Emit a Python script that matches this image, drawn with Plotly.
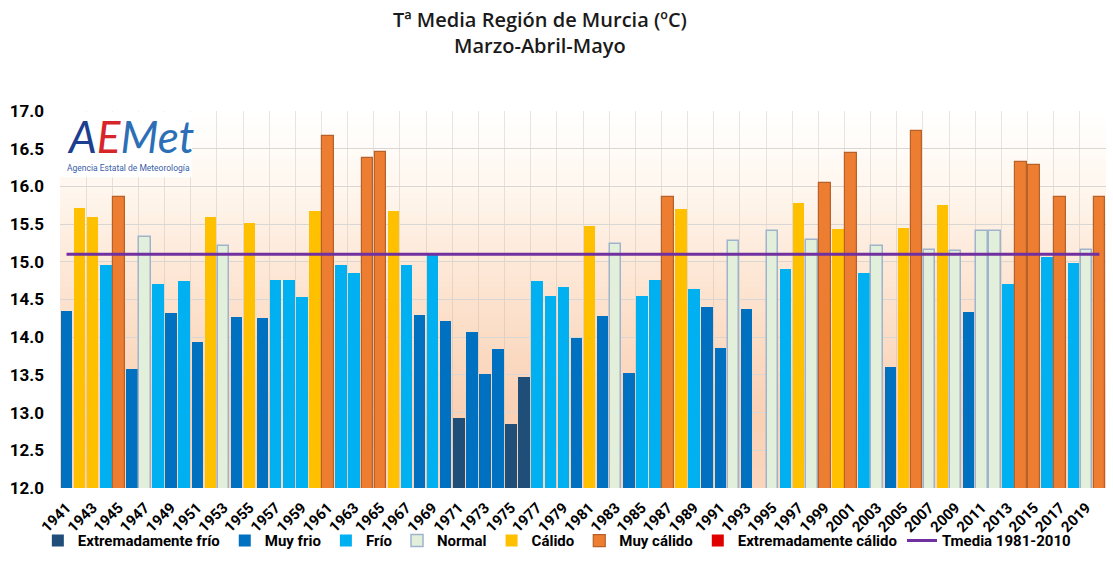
import plotly.graph_objects as go

# ---------------- data ----------------
years = list(range(1941, 2021))

temps = [
    14.35, 15.72, 15.59, 14.96, 15.86, 13.58, 15.33, 14.70, 14.32, 14.74,   # 1941-1950
    13.94, 15.60, 15.21, 14.27, 15.52, 14.26, 14.76, 14.76, 14.53, 15.68,   # 1951-1960
    16.67, 14.96, 14.85, 16.38, 16.46, 15.67, 14.96, 14.30, 15.12, 14.21,   # 1961-1970
    12.93, 14.07, 13.51, 13.85, 12.85, 13.47, 14.74, 14.55, 14.66, 13.99,   # 1971-1980
    15.47, 14.28, 15.24, 13.53, 14.55, 14.76, 15.86, 15.70, 14.64, 14.40,   # 1981-1990
    13.86, 15.27, 14.37, None,  15.41, 14.90, 15.78, 15.29, 16.04, 15.43,   # 1991-2000
    16.44, 14.85, 15.21, 13.61, 15.45, 16.74, 15.16, 15.76, 15.14, 14.34,   # 2001-2010
    15.41, 15.41, 14.71, 16.32, 16.29, 15.07, 15.86, 14.99, 15.15, 15.86,   # 2011-2020
]

classes = [
    "MF", "C", "C", "F", "MC", "MF", "N", "F", "MF", "F",
    "MF", "C", "N", "MF", "C", "MF", "F", "F", "F", "C",
    "MC", "F", "F", "MC", "MC", "C", "F", "MF", "F", "MF",
    "EF", "MF", "MF", "MF", "EF", "EF", "F", "F", "F", "MF",
    "C", "MF", "N", "MF", "F", "F", "MC", "C", "F", "MF",
    "MF", "N", "MF", None, "N", "F", "C", "N", "MC", "C",
    "MC", "F", "N", "MF", "C", "MC", "N", "C", "N", "MF",
    "N", "N", "F", "MC", "MC", "F", "MC", "F", "N", "MC",
]

category_codes = ["EF", "MF", "F", "N", "C", "MC", "EC"]
category_names = ["Extremadamente frío", "Muy frio", "Frío", "Normal",
                  "Cálido", "Muy cálido", "Extremadamente cálido"]

tmedia_name = "Tmedia 1981-2010"
tmedia_years = [1941, 2020]
tmedia_values = [15.1, 15.1]

tick_years = [1941, 1943, 1945, 1947, 1949, 1951, 1953, 1955, 1957, 1959,
              1961, 1963, 1965, 1967, 1969, 1971, 1973, 1975, 1977, 1979,
              1981, 1983, 1985, 1987, 1989, 1991, 1993, 1995, 1997, 1999,
              2001, 2003, 2005, 2007, 2009, 2011, 2013, 2015, 2017, 2019]
tick_labels = [str(y) for y in tick_years]

title_line1 = "Tª Media Región de Murcia (ºC)"
title_line2 = "Marzo-Abril-Mayo"

# ---------------- style ----------------
fill_colors = {"EF": "#1f4e79", "MF": "#0070c0", "F": "#00b0f0", "N": "#e2efda",
               "C": "#ffc000", "MC": "#ed7d31", "EC": "#e00000"}
line_colors = {"EF": "#1f4e79", "MF": "#0070c0", "F": "#00b0f0", "N": "#9fb4cc",
               "C": "#ffc000", "MC": "#b6612a", "EC": "#e00000"}
line_widths = {"EF": 0, "MF": 0, "F": 0, "N": 1.5, "C": 0, "MC": 1.2, "EC": 0}

TICK_FONT = "Roboto"

fig = go.Figure()

for code, name in zip(category_codes, category_names):
    xs = [y for y, c, v in zip(years, classes, temps) if c == code and v is not None]
    ys = [v for y, c, v in zip(years, classes, temps) if c == code and v is not None]
    if not xs:  # keep empty categories in the legend
        xs, ys = [None], [None]
    fig.add_trace(go.Bar(
        x=xs, y=ys, name=name, width=0.88,
        marker=dict(color=fill_colors[code],
                    line=dict(color=line_colors[code], width=line_widths[code])),
        hovertemplate="%{x}: %{y:.2f} ºC<extra>" + name + "</extra>",
    ))

fig.add_trace(go.Scatter(
    x=tmedia_years, y=tmedia_values, mode="lines", name=tmedia_name,
    line=dict(color="#7030a0", width=3),
))

# ---------------- background gradient ----------------
stops = [(17.0, (255, 255, 255)), (16.0, (255, 247, 239)), (15.0, (253, 233, 216)),
         (14.0, (251, 220, 197)), (13.0, (249, 209, 181)), (12.0, (250, 213, 188))]


def grad_color(v):
    for (v1, c1), (v2, c2) in zip(stops[:-1], stops[1:]):
        if v2 <= v <= v1:
            t = (v1 - v) / (v1 - v2)
            r, g, b = (round(a + (bb - a) * t) for a, bb in zip(c1, c2))
            return f"rgb({r},{g},{b})"
    return "rgb(255,255,255)"


n_bands = 60
shapes = []
for k in range(n_bands):
    y0 = 12.0 + 5.0 * k / n_bands
    y1 = 12.0 + 5.0 * (k + 1) / n_bands
    shapes.append(dict(type="rect", xref="paper", yref="y", x0=0, x1=1, y0=y0, y1=y1 + 0.01,
                       fillcolor=grad_color((y0 + y1) / 2), line=dict(width=0), layer="below"))

# white box behind logo
shapes.append(dict(type="rect", xref="x", yref="y", x0=1940.5, x1=1950.6, y0=16.12, y1=16.99,
                   fillcolor="white", line=dict(width=0), layer="above"))

PLOT_TOP, PLOT_H = 111, 377


def py(px):  # pixel row -> paper y (for annotations only)
    return 1 + (PLOT_TOP - px) / PLOT_H


fig.update_layout(
    width=1113, height=579,
    margin=dict(l=60, r=7, t=111, b=91, autoexpand=False),
    paper_bgcolor="white", plot_bgcolor="white",
    barmode="overlay", bargap=0,
    shapes=shapes,
    xaxis=dict(
        range=[1940.5, 2020.5], automargin=False,
        tickmode="array", tickvals=tick_years, ticktext=tick_labels,
        tickangle=-45, ticks="", showgrid=False, zeroline=False, showline=False,
        tickfont=dict(family=TICK_FONT, size=15, color="black", weight="bold"),
        ticklabelstandoff=7,
        minor=dict(tickmode="array",
                   tickvals=[y + 0.5 for y in range(1942, 2020, 2)],
                   showgrid=True, gridcolor="rgba(190,180,170,0.35)", gridwidth=1, ticks=""),
    ),
    yaxis=dict(
        range=[12, 17], dtick=0.5, tick0=12, tickformat=".1f", automargin=False,
        showgrid=True, gridcolor="#d9d6d3", gridwidth=1, zeroline=False, showline=False,
        ticks="", ticklabelstandoff=15,
        tickfont=dict(family=TICK_FONT, size=17, color="black", weight="bold"),
    ),
    legend=dict(
        orientation="h", x=0.475, xanchor="center", y=-0.14, yanchor="middle",
        font=dict(family=TICK_FONT, size=15, color="black", weight="bold"),
        bgcolor="rgba(0,0,0,0)", traceorder="normal", itemwidth=30,
    ),
    showlegend=True,
    annotations=[
        dict(xref="paper", yref="paper", x=0.459, y=py(20), xanchor="center", yanchor="middle",
             text=title_line1, showarrow=False,
             font=dict(family="Open Sans", size=20, color="#1a1a1a", weight=600)),
        dict(xref="paper", yref="paper", x=0.459, y=py(46), xanchor="center", yanchor="middle",
             text=title_line2, showarrow=False,
             font=dict(family="Open Sans", size=20, color="#1a1a1a", weight=600)),
        dict(xref="paper", yref="paper", x=0.005, y=py(136), xanchor="left", yanchor="middle",
             text="<i><span style='color:#1d3f8f'>A</span><span style='color:#d7262a'>E</span>"
                  "<span style='color:#2c6fb7'>Met</span></i>",
             showarrow=False, font=dict(family="Lato", size=44)),
        dict(xref="paper", yref="paper", x=0.005, y=py(168), xanchor="left", yanchor="middle",
             text="Agencia Estatal de Meteorología", showarrow=False,
             font=dict(family="Roboto", size=8.5, color="#3b5ea8")),
    ],
)

fig.write_html("out.html", config={"displayModeBar": False},
               post_script="document.body.style.margin='0px';")
